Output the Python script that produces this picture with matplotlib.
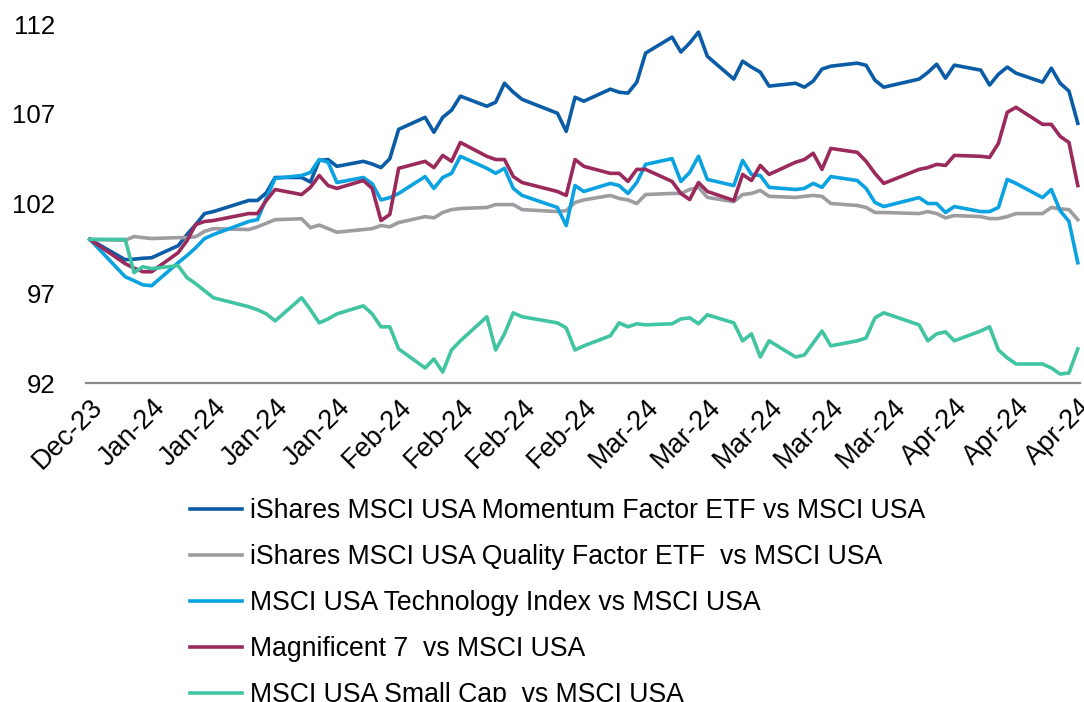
import matplotlib
matplotlib.use("Agg")
import matplotlib.pyplot as plt
import matplotlib.dates as mdates
import pandas as pd

plt.rcParams["font.family"] = ["Liberation Sans", "DejaVu Sans"]

# trading days Dec 29 2023 .. Apr 19 2024 (US market holidays removed)
HOLIDAYS = ["2024-01-01", "2024-01-15", "2024-02-19", "2024-03-29"]
dates = pd.bdate_range("2023-12-29", "2024-04-19").drop(pd.to_datetime(HOLIDAYS))

momentum = [
    100, 98.87, 98.9, 98.95, 98.98, 99.65, 100.27, 100.83, 101.44, 101.55,
    102.17, 102.17, 102.6, 103.45, 103.45, 103.2, 104.4, 104.45, 104.07, 104.35,
    104.2, 104.0, 104.5, 106.13, 106.8, 105.97, 106.8, 107.2, 107.98, 107.42,
    107.64, 108.7, 108.2, 107.8, 107.03, 106.02, 107.92, 107.7, 108.37, 108.2,
    108.15, 108.76, 110.38, 111.27, 110.44, 110.94, 111.55, 110.2, 108.93, 109.93,
    109.6, 109.32, 108.54, 108.7, 108.48, 108.82, 109.49, 109.65, 109.82, 109.7,
    108.87, 108.48, 108.93, 109.3, 109.76, 108.98, 109.71, 109.43, 108.6, 109.2,
    109.6, 109.26, 108.76, 109.54, 108.7, 108.26, 106.47,
]
quality = [
    100, 99.95, 100.16, 100.1, 100.05, 100.1, 100.1, 100.15, 100.45, 100.6,
    100.55, 100.7, 100.9, 101.1, 101.15, 100.65, 100.8, 100.6, 100.4, 100.55,
    100.6, 100.77, 100.7, 100.94, 101.27, 101.2, 101.5, 101.66, 101.72, 101.78,
    101.94, 101.94, 101.94, 101.66, 101.55, 101.6, 102.06, 102.2, 102.45, 102.28,
    102.2, 102.0, 102.5, 102.56, 102.56, 102.78, 102.9, 102.34, 102.1, 102.5,
    102.56, 102.73, 102.4, 102.34, 102.4, 102.45, 102.4, 102.0, 101.89, 101.78,
    101.5, 101.5, 101.44, 101.55, 101.44, 101.2, 101.33, 101.27, 101.16, 101.16,
    101.27, 101.44, 101.44, 101.78, 101.7, 101.66, 101.1,
]
technology = [
    100, 97.92, 97.7, 97.47, 97.42, 98.7, 99.1, 99.54, 100.05, 100.27,
    101.0, 101.1, 102.3, 103.4, 103.56, 103.73, 104.45, 104.3, 103.17, 103.45,
    103.1, 102.2, 102.33, 102.56, 103.5, 102.84, 103.45, 103.68, 104.63, 103.96,
    103.68, 103.96, 102.84, 102.45, 101.78, 100.77, 103.0, 102.67, 103.12, 103.0,
    102.56, 103.17, 104.18, 104.5, 103.23, 103.73, 104.63, 103.34, 103.0, 104.4,
    103.62, 103.56, 102.9, 102.78, 102.84, 103.12, 102.9, 103.5, 103.28, 102.84,
    102.06, 101.83, 102.33, 102.0, 102.0, 101.5, 101.83, 101.55, 101.55, 101.78,
    103.34, 103.12, 102.33, 102.78, 101.6, 101.0, 98.7,
]
mag7 = [
    100, 98.65, 98.4, 98.2, 98.2, 99.26, 99.93, 100.83, 101.0, 101.05,
    101.44, 101.44, 102.17, 102.78, 102.5, 102.9, 103.56, 103.0, 102.84, 103.28,
    102.84, 101.05, 101.39, 103.96, 104.35, 104.0, 104.68, 104.35, 105.4, 104.63,
    104.45, 104.45, 103.5, 103.17, 102.67, 102.45, 104.45, 104.07, 103.68, 103.68,
    103.23, 103.9, 103.9, 103.23, 102.56, 102.22, 103.17, 102.67, 102.17, 103.62,
    103.28, 104.12, 103.62, 104.3, 104.45, 104.8, 103.9, 105.07, 104.85, 104.35,
    103.68, 103.12, 103.9, 104.0, 104.18, 104.12, 104.68, 104.63, 104.57, 105.35,
    107.08, 107.36, 106.41, 106.41, 105.74, 105.4, 103.0,
]
small_cap = [
    100, 100, 98.15, 98.48, 98.37, 98.54, 97.87, 97.53, 97.14, 96.75,
    96.25, 96.08, 95.85, 95.46, 96.75, 96.08, 95.35, 95.57, 95.85, 96.3,
    95.85, 95.13, 95.13, 93.9, 92.84, 93.34, 92.61, 93.84, 94.35, 95.69,
    93.84, 94.74, 95.91, 95.69, 95.35, 95.07, 93.84, 94.07, 94.63, 95.35,
    95.13, 95.3, 95.24, 95.3, 95.57, 95.63, 95.3, 95.8, 95.35, 94.35,
    94.74, 93.45, 94.35, 93.45, 93.56, 94.23, 94.9, 94.07, 94.35, 94.51,
    95.63, 95.91, 95.24, 94.35, 94.74, 94.85, 94.35, 94.9, 95.13, 93.84,
    93.4, 93.06, 93.06, 92.84, 92.5, 92.56, 93.9,
]

SERIES = [
    ("iShares MSCI USA Momentum Factor ETF vs MSCI USA", momentum, "#0b5ca6"),
    ("iShares MSCI USA Quality Factor ETF  vs MSCI USA", quality, "#9d9ca1"),
    ("MSCI USA Technology Index vs MSCI USA", technology, "#0aa2e0"),
    ("Magnificent 7  vs MSCI USA", mag7, "#9b2a5c"),
    ("MSCI USA Small Cap  vs MSCI USA", small_cap, "#40c4a2"),
]

fig = plt.figure(figsize=(10.84, 7.02), dpi=100)
ax = fig.add_axes([0.0793, 0.4544, 0.9166, 0.5114])

for label, values, color in SERIES:
    ax.plot(dates, values, color=color, linewidth=2.6, label=label)

# weekly labels, Excel-style
ticks = pd.date_range(dates[0], dates[-1], freq="7D")
ax.set_xticks(ticks)
ax.set_xticklabels([t.strftime("%b-%y") for t in ticks], rotation=45,
                   ha="right", va="top", rotation_mode="anchor", fontsize=19.5)
start = mdates.date2num(dates[0])
end = mdates.date2num(dates[-1])
ax.set_xlim(start - 0.45, end + 0.2)

ax.set_ylim(92, 112)
ax.set_yticks([92, 97, 102, 107, 112])
ax.tick_params(axis="y", length=0, pad=22, labelsize=18.5)
ax.tick_params(axis="x", length=0, pad=8)

for side in ["left", "right", "top"]:
    ax.spines[side].set_visible(False)
ax.spines["bottom"].set_color("#8a8a8a")
ax.spines["bottom"].set_linewidth(1.6)

fig.legend(loc="upper left", bbox_to_anchor=(190 / 1084, 1 - 498 / 702),
           frameon=False, fontsize=19.2, handlelength=1.95, handletextpad=0.3,
           labelspacing=0.75, borderpad=0, borderaxespad=0)

fig.savefig("out.png", dpi=100)
